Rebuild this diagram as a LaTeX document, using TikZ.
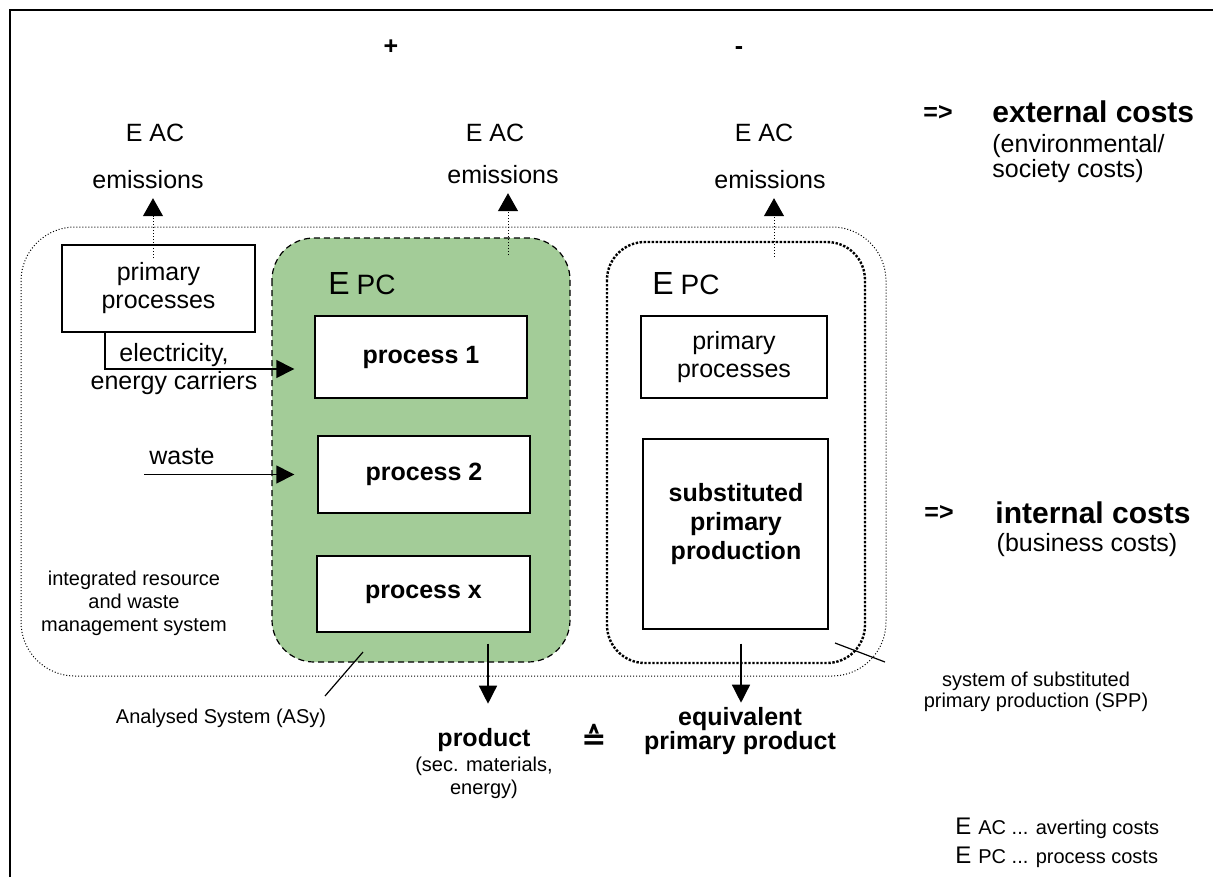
\documentclass[tikz,border=0pt]{standalone}
\usepackage{fontspec}
\setmainfont{Liberation Sans}
\newfontfamily\symfont{DejaVu Sans}
\usetikzlibrary{arrows.meta}
\definecolor{asygreen}{RGB}{163,204,152}
\newcommand{\nsize}{\fontsize{12.5}{14}\selectfont}
\newcommand{\ssize}{\fontsize{10}{11.5}\selectfont}
\newcommand{\bsize}{\fontsize{15}{17}\selectfont\bfseries}
\begin{document}
\begin{tikzpicture}[x=0.5pt,y=-0.5pt,
    box/.style={draw,fill=white,line width=0.7pt,inner sep=0pt,align=center,font=\nsize},
    txt/.style={inner sep=0pt,align=center,font=\nsize},
    small/.style={inner sep=0pt,align=center,font=\ssize},
    flow/.style={line width=0.7pt,-{Triangle[width=9pt,length=9pt]}},
    emis/.style={line width=0.5pt,dash pattern=on 0.5pt off 1pt,-{Triangle[width=10pt,length=9pt]}},
    leader/.style={line width=0.6pt}]
    \useasboundingbox (0,0) rectangle (1213,877);
    \draw [line width=1pt] (10,877)--(10,10)--(1213,10);
    \draw [line width=0.5pt,dash pattern=on 0.5pt off 1pt,rounded corners=27pt] (21,227) rectangle (886,676);
    \draw [fill=asygreen,line width=0.6pt,dash pattern=on 3pt off 2pt,rounded corners=21pt] (272,238) rectangle (570,662);
    \draw [line width=1.2pt,dash pattern=on 1.2pt off 0.8pt,rounded corners=19pt] (607,242) rectangle (865,663);
    \node [box,minimum width=96.5pt,minimum height=43.5pt] (prim1) at (158.5,288.5) {primary\\processes};
    \node [box,minimum width=106pt,minimum height=41pt,font=\nsize\bfseries] (proc1) at (421,357) {process 1};
    \node [box,minimum width=106pt,minimum height=38.5pt,font=\nsize\bfseries] (proc2) at (424,474.5) {process 2};
    \node [box,minimum width=106.5pt,minimum height=38pt,font=\nsize\bfseries] (procx) at (423.5,594) {process x};
    \node [box,minimum width=93pt,minimum height=41pt] (prim2) at (734,357) {primary\\processes};
    \node [box,minimum width=92.5pt,minimum height=95pt] (subst) at (735.5,534) {};
    \node [txt,font=\fontsize{12.5}{14.5}\selectfont\bfseries] (substxt) at (736,524) {substituted\\primary\\production};
    \node [txt,anchor=west] (epc1) at (328,284) {{\fontsize{16}{16}\selectfont E} {\fontsize{14}{14}\selectfont PC}};
    \node [txt,anchor=west] (epc2) at (652,284) {{\fontsize{16}{16}\selectfont E} {\fontsize{14}{14}\selectfont PC}};
    \node [txt,font=\nsize\bfseries,anchor=base] (plus) at (391,55) {+};
    \node [txt,font=\nsize\bfseries,anchor=base] (minus) at (739,55) {-};
    \node [txt] (eac1) at (155,133) {E AC};
    \node [txt] (eac2) at (495,133) {E AC};
    \node [txt] (eac3) at (764,133) {E AC};
    \node [txt,outer sep=4.5pt] (emis1) at (148,180) {emissions};
    \node [txt,outer sep=4.5pt] (emis2) at (503,175) {emissions};
    \node [txt,outer sep=4.5pt] (emis3) at (770,180) {emissions};
    \coordinate (em1) at (153,258);
    \coordinate (em2) at (508,255);
    \coordinate (em3) at (774,257);
    \draw [emis] (em1)--(em1 |- emis1.south);
    \draw [emis] (em2)--(em2 |- emis2.south);
    \draw [emis] (em3)--(em3 |- emis3.south);
    \node [txt] (elec) at (174,369) {electricity,\\energy carriers};
    \draw [flow] ([xshift=-26.75pt]prim1.south) |- ([xshift=-10pt,yshift=-6pt]proc1.west);
    \node [txt] (waste) at (182,457) {waste};
    \coordinate (wastein) at (144,474.5);
    \draw [flow] (wastein)--([xshift=-11.5pt]proc2.west);
    \node [small,font=\fontsize{10}{11.5}\selectfont] (irwms) at (134,603) {integrated resource\\and waste\\management system};
    \node [small] (asy) at (221,718) {Analysed System (ASy)};
    \coordinate (asya) at (363,652);
    \coordinate (asyb) at (325,696);
    \draw [leader] (asya)--(asyb);
    \draw [flow] ([xshift=32.25pt,yshift=-5.5pt]procx.south)--++(0,60);
    \draw [flow] ([xshift=2.75pt,yshift=-7pt]subst.south)--++(0,59);
    \node [txt,font=\nsize\bfseries] (prod) at (484,740) {product};
    \node [small] (prodsub) at (484,778) {(sec. materials,\\energy)};
    \node [txt,font=\symfont\bfseries\fontsize{15}{16}\selectfont] (corr) at (594,737) {≙};
    \node [txt,font=\fontsize{12.5}{12}\selectfont\bfseries] (equiv) at (740,731) {equivalent\\primary product};
    \coordinate (sppa) at (835,643);
    \coordinate (sppb) at (885,662);
    \draw [leader] (sppa)--(sppb);
    \node [small,font=\fontsize{10}{10.5}\selectfont] (spp) at (1036,692) {system of substituted\\primary production (SPP)};
    \node [txt,font=\nsize\bfseries] (arrext) at (938,113) {=>};
    \node [txt,anchor=west,font=\bsize] (ext) at (992,112) {external costs};
    \node [txt,anchor=base west,align=left,font=\fontsize{12.5}{12.5}\selectfont] (extsub) at (992,177) {(environmental/\\society costs)};
    \node [txt,font=\nsize\bfseries] (arrint) at (939,513) {=>};
    \node [txt,anchor=west,font=\bsize] (int) at (995,513) {internal costs};
    \node [txt] (intsub) at (1087,545) {(business costs)};
    \node [txt,anchor=west] (leg1) at (955,828) {{\fontsize{12}{12}\selectfont E} {\ssize AC ... averting costs}};
    \node [txt,anchor=west] (leg2) at (955,857) {{\fontsize{12}{12}\selectfont E} {\ssize PC ... process costs}};
\end{tikzpicture}
\end{document}
